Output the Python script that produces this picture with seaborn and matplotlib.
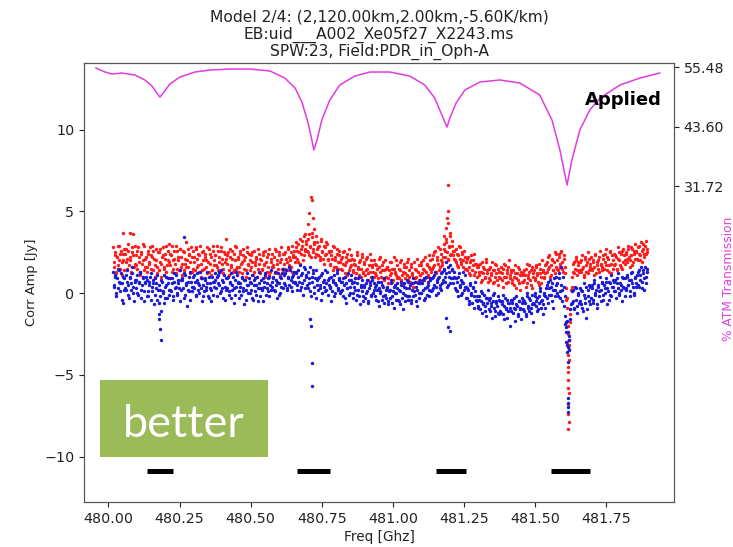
import numpy as np
import pandas as pd
import matplotlib
matplotlib.use("Agg")
import matplotlib.pyplot as plt
from matplotlib.patches import Rectangle
from matplotlib.ticker import FormatStrFormatter
import seaborn as sns

# ---------------- data ----------------
title_lines = ["Model 2/4: (2,120.00km,2.00km,-5.60K/km)",
               "EB:uid___A002_Xe05f27_X2243.ms",
               "SPW:23, Field:PDR_in_Oph-A"]

# channel grid of the spectral window (GHz); second sample set sits half a channel later
chan_first = 480.016
chan_last = 481.892
chan_half_step = 0.002
n_chan = 470

red_amp = [
    2.8, 1.6, 2.3, 1.2, 2.9, 2.0, 1.5, 2.6, 1.9, 2.4,
    1.4, 2.7, 2.1, 3.0, 1.7, 2.2, 1.3, 2.5, 3.6, 1.8,
    2.3, 1.5, 2.8, 1.9, 1.1, 2.4, 2.0, 2.9, 1.6, 2.2,
    1.3, 2.6, 1.8, 2.3, 2.9, 1.4, 2.1, 1.7, 2.7, 1.2,
    2.5, 1.9, 1.0, 2.2, 2.8, 1.6, 2.4, 1.3, 2.0, 3.0,
    1.7, 2.3, 2.9, 1.5, 2.1, 1.2, 2.6, 2.0, 1.4, 2.7,
    2.2, 1.1, 2.5, 1.8, 3.1, 2.0, 1.6, 2.4, 1.9, 1.3,
    2.6, 1.9, 1.4, 2.8, 2.1, 1.7, 2.3, 1.0, 2.5, 2.0,
    1.5, 2.4, 2.0, 1.2, 2.7, 1.8, 2.2, 1.4, 2.9, 1.7,
    2.3, 1.6, 2.6, 1.9, 1.3, 2.8, 2.1, 1.5, 2.4, 3.3,
    1.8, 2.5, 1.1, 2.2, 1.7, 2.6, 1.4, 2.0, 2.8, 1.6,
    2.1, 1.3, 2.4, 1.9, 2.7, 1.5, 2.2, 1.0, 2.5, 1.8,
    1.4, 2.3, 1.9, 1.1, 2.6, 1.7, 2.1, 1.5, 2.4, 1.2,
    2.0, 1.5, 2.5, 1.8, 1.0, 2.2, 1.6, 2.7, 1.3, 1.9,
    2.4, 1.7, 1.2, 2.6, 2.0, 1.5, 2.3, 1.9, 2.8, 1.4,
    1.8, 2.5, 2.1, 1.4, 2.7, 2.2, 1.6, 2.9, 2.3, 2.6,
    2.2, 3.1, 2.6, 1.9, 3.3, 2.4, 2.9, 2.0, 3.5, 2.7,
    3.2, 2.5, 3.6, 2.9, 2.2, 3.4, 2.7, 3.0, 2.4, 3.1,
    2.3, 2.9, 2.0, 3.2, 2.6, 1.8, 2.8, 2.4, 3.0, 2.1,
    2.5, 1.7, 2.3, 1.4, 2.8, 2.0, 1.6, 2.4, 1.9, 2.6,
    1.5, 2.2, 1.8, 2.6, 1.2, 1.9, 2.4, 1.4, 2.0, 1.7,
    2.1, 1.3, 1.8, 0.9, 2.3, 1.6, 1.1, 2.0, 1.5, 2.4,
    1.2, 1.9, 1.4, 2.2, 0.8, 1.7, 1.3, 2.0, 1.6, 1.0,
    1.8, 1.1, 1.5, 0.7, 2.1, 1.3, 1.7, 0.9, 1.4, 2.0,
    1.0, 1.6, 0.6, 1.9, 1.2, 1.5, 0.8, 2.2, 1.3, 1.1,
    1.7, 0.9, 1.4, 2.0, 1.1, 0.5, 1.6, 1.2, 1.9, 0.8,
    1.4, 0.7, 1.8, 1.1, 0.4, 1.5, 1.0, 2.1, 1.3, 0.8,
    1.1, 1.9, 1.5, 0.8, 2.2, 1.3, 1.7, 1.0, 1.6, 2.0,
    1.5, 2.3, 1.7, 2.6, 1.2, 2.0, 2.8, 1.6, 2.4, 1.9,
    2.2, 3.0, 2.6, 3.3, 2.1, 2.8, 3.5, 2.4, 2.9, 2.3,
    2.6, 1.9, 2.4, 1.6, 2.9, 2.1, 1.8, 2.5, 2.0, 1.5,
    1.9, 1.4, 2.2, 1.6, 1.1, 2.0, 1.7, 2.4, 1.3, 1.8,
    1.0, 1.7, 1.3, 0.7, 1.9, 1.2, 1.5, 0.9, 2.1, 1.4,
    1.5, 0.8, 1.2, 1.9, 0.6, 1.4, 1.0, 1.7, 0.5, 1.3,
    0.9, 1.6, 1.2, 0.4, 1.8, 1.0, 1.4, 0.7, 2.0, 1.1,
    1.3, 0.6, 1.0, 1.7, 0.3, 1.2, 0.8, 1.5, 0.2, 1.1,
    0.7, 1.4, 1.1, 0.4, 1.8, 0.9, 1.3, 0.5, 1.6, 1.0,
    1.4, 0.8, 1.7, 1.2, 0.5, 1.5, 1.0, 2.0, 1.3, 0.9,
    1.2, 1.9, 1.5, 2.3, 1.0, 1.7, 2.1, 1.4, 2.5, 1.6,
    2.0, 1.4, 2.4, 1.8, 2.6, 1.5, 2.1, 1.2, 0.3, -0.9,
    -2.5, -4.1, -1.3, 0.4, 1.3, 1.9, 1.5, 2.2, 1.1, 1.7,
    1.9, 1.3, 2.3, 1.6, 1.0, 2.1, 1.7, 2.5, 1.4, 1.8,
    2.2, 1.5, 1.9, 1.1, 2.4, 1.7, 2.0, 1.3, 2.6, 1.8,
    1.6, 2.3, 1.9, 2.7, 1.4, 2.1, 1.7, 2.5, 1.2, 2.0,
    2.4, 1.8, 2.2, 1.5, 2.8, 2.0, 1.6, 2.6, 1.9, 2.3,
    1.8, 2.5, 2.1, 2.9, 1.6, 2.3, 2.7, 1.9, 2.4, 3.0,
    2.6, 2.0, 2.9, 2.3, 3.1, 1.9, 2.7, 2.4, 3.2, 2.5,
]

red_amp_b = [
    1.9, 2.5, 1.3, 2.2, 1.7, 2.9, 2.4, 1.1, 2.0, 2.7,
    2.4, 1.9, 1.5, 2.6, 2.0, 1.2, 2.8, 2.3, 1.6, 2.9,
    1.7, 2.6, 2.2, 1.3, 2.5, 1.8, 3.0, 1.4, 2.1, 1.6,
    2.4, 1.9, 2.8, 1.5, 2.2, 2.6, 1.0, 2.0, 1.6, 2.5,
    1.4, 2.7, 1.8, 2.3, 1.5, 2.1, 2.9, 1.7, 2.6, 1.9,
    2.4, 1.3, 2.0, 2.6, 1.8, 2.9, 1.5, 2.2, 2.7, 1.6,
    1.8, 2.6, 1.4, 2.1, 1.6, 2.7, 2.3, 1.2, 2.8, 2.2,
    1.5, 2.2, 2.7, 1.6, 2.4, 1.3, 2.9, 1.8, 1.4, 2.6,
    2.2, 1.6, 2.8, 1.9, 1.3, 2.4, 1.1, 2.6, 2.0, 2.3,
    1.7, 2.9, 1.4, 2.2, 2.6, 1.8, 1.2, 2.5, 1.9, 2.1,
    2.3, 1.4, 2.7, 1.6, 2.1, 1.3, 2.4, 2.9, 1.5, 2.2,
    1.6, 2.6, 1.8, 1.2, 2.3, 2.0, 1.4, 2.8, 1.7, 2.4,
    2.0, 1.6, 2.5, 1.3, 1.9, 2.2, 1.0, 2.7, 1.8, 2.1,
    1.4, 2.3, 1.7, 2.6, 1.9, 1.3, 2.4, 1.1, 2.1, 1.6,
    1.6, 2.2, 2.7, 1.3, 1.8, 2.5, 1.1, 2.1, 1.5, 2.4,
    2.4, 1.5, 1.9, 2.8, 1.7, 2.0, 2.5, 1.3, 2.2, 1.9,
    2.8, 2.1, 3.0, 2.5, 1.8, 2.7, 3.2, 2.3, 2.6, 3.0,
    2.6, 3.3, 2.3, 2.8, 3.7, 2.5, 3.1, 2.2, 3.5, 2.7,
    2.8, 2.2, 3.3, 2.5, 2.1, 2.9, 2.3, 3.1, 2.0, 2.6,
    1.8, 2.6, 2.1, 2.9, 1.6, 2.2, 2.7, 1.5, 2.3, 1.9,
    2.1, 1.4, 2.5, 1.7, 2.2, 1.1, 2.0, 2.7, 1.6, 2.3,
    1.4, 2.0, 1.7, 1.2, 2.5, 1.5, 1.9, 1.0, 2.2, 1.3,
    1.8, 1.1, 2.1, 1.5, 1.2, 2.4, 1.0, 1.7, 1.3, 2.0,
    1.2, 1.7, 0.9, 1.6, 2.2, 1.0, 1.4, 1.9, 0.8, 1.5,
    1.6, 0.9, 1.4, 1.1, 1.9, 0.7, 1.5, 1.2, 2.0, 0.9,
    1.0, 1.5, 1.9, 0.8, 1.3, 1.8, 0.9, 1.6, 1.1, 2.1,
    1.0, 1.6, 1.2, 0.6, 1.9, 0.9, 1.4, 0.7, 1.7, 1.1,
    1.7, 1.2, 2.0, 1.4, 0.9, 1.8, 1.1, 2.3, 1.5, 1.3,
    2.1, 1.6, 2.5, 1.3, 2.2, 1.8, 1.4, 2.7, 2.0, 1.7,
    2.7, 2.2, 3.1, 2.5, 2.0, 2.9, 2.3, 3.2, 2.6, 2.1,
    2.0, 2.7, 1.7, 2.3, 2.8, 1.9, 2.4, 1.6, 2.6, 2.2,
    1.5, 2.1, 1.2, 1.9, 2.3, 1.4, 2.0, 1.1, 1.8, 1.6,
    1.6, 1.1, 1.8, 1.3, 0.8, 1.6, 1.0, 1.9, 1.2, 0.7,
    0.9, 1.6, 1.1, 1.4, 0.7, 1.8, 1.2, 0.8, 1.5, 1.0,
    1.3, 0.8, 1.5, 1.0, 1.7, 0.6, 1.2, 1.6, 0.9, 1.4,
    0.8, 1.4, 0.5, 1.2, 0.9, 1.6, 0.6, 1.1, 1.3, 0.7,
    1.2, 0.8, 1.5, 0.6, 1.1, 1.7, 0.8, 1.4, 0.3, 1.2,
    0.9, 1.6, 1.1, 0.7, 1.8, 1.2, 0.6, 1.4, 1.0, 1.7,
    1.8, 1.3, 2.2, 1.6, 1.1, 2.0, 1.4, 1.9, 1.2, 2.4,
    1.5, 2.2, 1.6, 2.5, 1.9, 1.3, 2.3, 1.6, -0.4, -2.0,
    -3.2, -1.8, 0.2, 1.0, 1.8, 1.2, 2.0, 1.4, 1.9, 1.3,
    1.4, 2.0, 1.5, 1.1, 2.2, 1.3, 1.9, 1.2, 2.1, 1.6,
    1.4, 2.0, 1.6, 2.3, 1.2, 1.9, 1.5, 2.2, 1.7, 1.4,
    2.1, 1.5, 2.4, 1.7, 2.2, 1.3, 2.6, 1.8, 2.3, 1.5,
    1.7, 2.3, 1.4, 2.1, 2.5, 1.7, 2.4, 1.5, 2.7, 2.0,
    2.4, 1.9, 2.7, 2.2, 2.0, 2.8, 1.7, 2.6, 2.1, 2.5,
    2.1, 2.8, 2.4, 2.0, 2.6, 3.0, 2.2, 2.9, 2.4, 2.7,
]

blue_amp = [
    1.3, 0.4, 1.0, -0.2, 1.5, 0.7, 0.1, 1.2, 0.6, -0.6,
    0.9, 0.2, 1.4, 0.5, -0.3, 1.0, 0.6, 1.6, 0.0, 0.8,
    0.3, 1.1, -0.1, 0.7, 1.3, 0.2, 0.9, -0.5, 0.6, 1.0,
    0.8, -0.2, 0.5, 1.2, 0.1, 0.6, -0.7, 0.9, 0.3, -0.4,
    -0.6, 0.2, -1.1, 0.7, 0.0, 1.1, -0.3, 0.5, 0.9, -0.1,
    0.9, 0.1, 0.6, -0.4, 1.2, 0.4, -0.1, 0.8, 0.3, 1.4,
    0.2, 0.8, -0.3, 1.1, 0.5, -0.8, 0.7, 0.1, 1.3, 0.4,
    1.0, 0.3, 0.7, -0.2, 1.2, 0.6, 0.0, 0.9, -0.5, 0.5,
    0.1, 0.9, 0.4, 1.3, -0.3, 0.6, 0.2, 1.0, -0.1, 0.7,
    0.8, -0.2, 1.1, 0.5, 0.0, 1.4, 0.3, 0.7, -0.4, 0.9,
    0.3, 1.0, -0.1, 0.6, 1.2, 0.2, -0.6, 0.8, 0.4, 1.1,
    0.7, -0.3, 0.4, 1.0, 0.1, -0.7, 0.8, 0.2, 1.2, 0.5,
    0.0, 0.6, 1.1, -0.4, 0.5, 0.9, -0.1, 0.3, 1.3, -0.2,
    0.8, 0.2, -0.5, 0.7, 1.1, 0.3, 0.9, -0.2, 0.5, 1.4,
    0.4, 1.0, 0.1, 0.8, -0.3, 1.2, 0.6, 0.0, 0.9, 1.5,
    1.1, 0.5, 1.4, 0.2, 0.9, 1.6, 0.4, 1.0, 0.7, 1.3,
    0.6, 1.3, 0.2, 1.0, 1.7, 0.4, 1.2, -0.1, 0.8, 1.5,
    1.1, 0.3, 0.9, 1.6, -0.2, 0.7, 1.2, 0.0, 1.4, 0.5,
    0.2, 1.0, 0.5, -0.4, 1.2, 0.8, 0.1, 0.6, 1.3, -0.1,
    0.9, 0.3, -0.5, 0.7, 1.1, 0.0, 0.5, 1.4, 0.2, 0.8,
    0.1, 0.7, -0.2, 0.5, 1.0, -0.6, 0.3, 0.8, 0.0, 1.1,
    0.6, -0.3, 0.4, 0.9, -0.1, 0.2, 1.0, -0.7, 0.5, 0.1,
    -0.2, 0.5, 0.0, 0.8, -0.6, 0.3, 0.7, -0.1, 1.0, 0.2,
    0.4, -0.4, 0.2, 0.7, -0.8, 0.1, 0.5, -0.2, 0.9, -0.1,
    -0.3, 0.4, -0.7, 0.2, 0.6, -0.2, 0.1, -0.9, 0.5, 0.0,
    0.3, -0.5, 0.1, 0.7, -0.3, -1.0, 0.4, -0.1, 0.8, -0.4,
    -0.2, 0.5, -0.6, 0.2, 0.9, -0.1, 0.4, -0.8, 0.6, 0.0,
    0.6, 0.0, 0.8, -0.4, 0.3, 1.0, -0.1, 0.5, 0.2, 0.9,
    0.2, 1.0, 0.5, 1.3, -0.1, 0.7, 0.9, 0.3, 1.2, 0.6,
    0.8, 1.5, 1.0, 1.9, 0.5, 1.3, 1.7, 0.9, 1.4, 0.6,
    1.0, 0.2, 0.7, -0.2, 1.2, 0.4, 0.8, 0.0, 0.6, 1.1,
    0.4, -0.3, 0.2, -0.7, 0.6, -0.1, 0.3, -0.9, 0.1, -0.4,
    -0.2, -0.9, -0.4, 0.1, -1.2, -0.6, -0.1, -0.8, -1.4, -0.3,
    -1.0, -0.3, -0.8, -1.5, -0.5, 0.0, -1.1, -0.6, -0.2, -1.3,
    -0.5, -1.2, -0.7, -0.1, -1.6, -0.9, -0.4, -1.1, -0.6, -2.0,
    -1.1, -0.4, -0.9, -1.7, -0.2, -0.8, -1.3, -0.5, -1.0, -0.3,
    -0.4, -1.1, -0.6, -1.4, 0.0, -0.9, -0.3, -1.2, -0.7, -1.8,
    -0.7, 0.0, -0.5, -1.1, -0.2, 0.3, -0.9, -0.4, -1.3, -0.1,
    -0.2, 0.5, -0.6, 0.3, 0.8, -0.1, 0.6, -0.9, 0.2, 1.0,
    0.6, -0.2, 1.2, 0.1, 1.6, -0.5, 0.4, -1.4, -2.1, -1.7,
    -3.3, -2.6, -1.0, -0.6, 0.2, -0.9, 0.4, -0.4, -1.2, 0.0,
    0.3, -0.7, 0.1, -1.1, 0.6, -0.3, -1.5, 0.2, -0.5, 0.4,
    -0.3, 0.5, -0.6, 0.8, 0.0, -0.9, 0.4, -0.2, 1.0, 0.2,
    0.6, -0.4, 0.3, 0.9, -0.7, 0.1, 0.7, -0.1, 1.1, 0.4,
    0.1, 0.8, -0.3, 0.6, 1.2, 0.0, 0.5, -0.5, 0.9, 0.3,
    0.9, 0.2, 1.1, 0.5, -0.2, 0.8, 1.3, 0.4, 0.0, 1.0,
    0.6, 1.3, 0.4, 1.1, 1.6, 0.7, 1.4, 0.2, 1.0, 1.5,
]

blue_amp_b = [
    0.5, 1.1, 0.0, 0.9, 0.3, 1.4, 0.6, -0.4, 1.0, 0.2,
    0.3, 1.1, 0.7, -0.1, 0.9, 0.2, 1.2, 0.4, -0.5, 0.7,
    0.8, 0.0, 0.6, 1.2, -0.3, 0.5, 1.0, 0.1, 0.7, -0.2,
    0.1, 0.7, 1.0, -0.4, 0.4, 0.8, -0.1, 0.6, 1.1, 0.2,
    0.5, -0.2, 0.8, 0.1, -0.6, 0.4, 1.0, -0.3, 0.6, 0.2,
    0.2, 0.9, -0.2, 0.7, 0.3, 1.1, 0.0, 0.6, -0.5, 0.8,
    0.9, 0.3, 1.2, -0.1, 0.6, 0.2, 1.0, -0.4, 0.7, 0.1,
    0.4, 1.1, -0.1, 0.8, 0.2, 0.5, 1.3, 0.3, 0.9, -0.2,
    0.8, 0.2, 0.6, -0.2, 1.0, 0.3, -0.5, 0.7, 0.4, 1.2,
    0.3, 1.0, 0.6, 1.3, 0.1, 0.8, -0.3, 1.1, 0.4, 0.2,
    0.9, 0.1, 0.7, -0.3, 0.5, 1.0, 0.3, -0.1, 1.3, 0.6,
    0.1, 0.6, -0.1, 0.9, 0.3, 0.8, -0.4, 0.5, 0.0, 0.9,
    0.7, 0.2, -0.3, 0.8, 0.1, 0.5, 1.0, -0.5, 0.6, 0.3,
    0.3, 0.9, 0.4, 1.2, -0.1, 0.6, 0.1, 1.0, 0.2, 0.7,
    0.9, 0.2, 1.3, 0.5, 0.7, -0.1, 1.0, 0.4, 1.2, 0.3,
    0.6, 1.2, 0.3, 1.0, 0.5, 1.4, 0.8, 0.1, 1.1, 0.7,
    1.2, 0.5, 1.4, 0.7, 0.2, 1.1, 0.6, 1.6, 0.3, 1.0,
    0.5, 1.3, 0.6, 0.1, 1.0, 1.4, 0.4, 0.9, -0.3, 0.8,
    0.9, 0.3, 1.1, 0.0, 0.7, 0.4, 1.4, 0.2, 0.8, 0.5,
    0.4, 1.0, 0.1, 0.8, -0.2, 0.6, 1.2, 0.3, 0.9, 0.0,
    0.7, 0.2, 0.9, -0.3, 0.6, 0.3, 1.2, -0.1, 0.4, 0.8,
    0.0, 0.7, 0.2, -0.4, 0.6, 0.9, -0.2, 0.4, 0.8, -0.5,
    0.4, -0.3, 0.6, 0.1, -0.5, 0.5, -0.2, 0.8, 0.0, 0.6,
    -0.2, 0.5, -0.5, 0.3, 0.0, 0.7, -0.4, 0.4, -0.6, 0.2,
    0.3, -0.5, 0.1, -0.3, 0.8, -0.6, 0.4, 0.0, -0.4, 0.6,
    -0.4, 0.2, -0.7, 0.5, 0.0, 0.6, -0.5, 0.3, -0.2, 0.7,
    0.3, -0.4, 0.6, -0.2, 0.1, 0.7, -0.5, 0.2, -0.3, 0.8,
    0.0, 0.6, 0.2, 0.9, -0.3, 0.4, 0.7, -0.2, 0.8, 0.1,
    0.9, 0.3, 1.1, 0.4, 0.8, 0.0, 1.0, 0.5, 0.2, 1.3,
    1.4, 0.7, 1.2, 0.4, 1.6, 1.0, 0.6, 1.5, 0.9, 1.3,
    0.3, 0.9, 0.1, 1.0, 0.5, -0.1, 0.7, 1.3, 0.2, 0.4,
    -0.3, 0.3, -0.5, 0.5, 0.0, -0.6, 0.4, -0.2, 0.7, -0.5,
    -0.8, -0.2, -1.0, -0.5, 0.0, -0.7, -1.1, -0.3, -0.6, 0.2,
    -0.4, -1.1, -0.6, -0.1, -0.9, -1.4, -0.5, -0.8, -1.2, -0.4,
    -1.1, -0.5, -1.3, -0.8, -0.3, -1.0, -1.5, -0.6, -0.9, -0.4,
    -0.6, -1.2, -0.3, -1.0, -0.7, -1.4, -0.5, -0.9, -1.6, -0.6,
    -1.0, -0.5, -1.3, -0.2, -0.8, -1.1, -0.4, -0.9, -0.1, -0.6,
    -0.2, -0.8, -0.3, -1.0, -0.6, 0.1, -0.5, -0.7, 0.0, -0.9,
    0.3, -0.3, 0.7, -0.1, 0.4, -0.5, 0.2, 0.9, -0.2, 0.5,
    0.0, 0.9, -0.3, 0.5, 0.2, 1.0, -0.8, -0.2, -1.8, -2.4,
    -2.9, -1.6, -0.7, 0.1, -0.5, -1.0, 0.3, -0.8, -0.1, -0.6,
    -0.5, 0.2, -0.9, -0.1, -0.6, 0.4, -1.0, -0.2, 0.5, -0.7,
    0.3, -0.4, 0.6, -0.1, 0.2, -0.7, 0.5, 0.1, -0.5, 0.7,
    -0.1, 0.5, 0.0, 0.7, 0.3, -0.4, 0.6, -0.2, 0.4, 0.8,
    0.7, 0.1, 0.9, 0.3, -0.1, 0.6, 0.2, 1.0, 0.4, -0.2,
    0.3, 1.0, 0.5, 0.8, 0.1, 1.2, 0.6, -0.1, 0.9, 0.4,
    1.1, 0.5, 1.4, 0.8, 0.3, 1.2, 0.9, 1.6, 0.6, 1.3,
]

# isolated points (line peaks and absorption dip)
red_extra_freq = [480.051, 480.074, 480.690, 480.700, 480.706, 480.712, 480.716,
                  480.718, 480.722, 481.178, 481.188, 481.190, 481.193, 481.193,
                  481.195, 481.200, 481.610, 481.611, 481.612, 481.613, 481.614,
                  481.614, 481.615, 481.616, 481.616, 481.617, 481.617, 481.617,
                  481.618, 481.618, 481.619, 481.621]
red_extra_amp = [3.7, 3.7, 3.6, 4.2, 4.9, 5.9, 5.7,
                 4.6, 3.9, 3.5, 4.0, 4.6, 6.6, 5.0,
                 4.3, 3.7, -1.8, -0.3, -3.0, -2.4, -3.8,
                 -4.8, -4.5, -5.3, -6.8, -5.8, -7.4, -8.3,
                 -6.1, -7.9, -3.4, -1.0]

blue_extra_freq = [480.176, 480.178, 480.181, 480.183, 480.267, 480.709, 480.712,
                   480.716, 480.716, 481.185, 481.195, 481.200, 481.606, 481.608,
                   481.610, 481.612, 481.613, 481.615, 481.616, 481.617, 481.617,
                   481.617, 481.618, 481.620]
blue_extra_amp = [-1.3, -1.6, -2.2, -2.9, 3.4, -1.6, -2.0,
                  -4.3, -5.7, -1.5, -2.1, -2.3, -1.9, -2.4,
                  -3.0, -3.6, -3.2, -4.2, -6.7, -6.4, -7.0,
                  -7.3, -2.9, -3.5]

# atmospheric transmission model (%)
atm_freq = [479.956, 479.988, 480.012, 480.047, 480.093, 480.128, 480.153, 480.170,
            480.181, 480.195, 480.216, 480.251, 480.304, 480.357, 480.427, 480.497,
            480.568, 480.620, 480.656, 480.680, 480.701, 480.715, 480.722, 480.733,
            480.750, 480.778, 480.813, 480.866, 480.919, 480.989, 481.059, 481.112,
            481.147, 481.172, 481.190, 481.200, 481.222, 481.253, 481.306, 481.376,
            481.446, 481.516, 481.559, 481.587, 481.612, 481.629, 481.657, 481.692,
            481.728, 481.798, 481.868, 481.938]
atm_trans = [55.28, 54.48, 54.08, 54.28, 53.88, 52.89, 51.69, 50.29,
             49.49, 50.49, 52.09, 53.48, 54.48, 54.88, 55.08, 55.08,
             54.68, 53.28, 51.29, 48.49, 44.50, 40.91, 38.91, 40.91,
             44.90, 48.89, 51.89, 53.68, 54.48, 54.48, 53.68, 51.89,
             49.29, 45.90, 43.50, 45.30, 48.29, 50.89, 52.49, 52.89,
             52.29, 49.89, 44.90, 38.91, 31.93, 36.92, 42.91, 46.90,
             49.29, 51.89, 53.28, 54.28]

# line-free (excluded) ranges
range_start = [480.134, 480.663, 481.153, 481.557]
range_end = [480.227, 480.779, 481.258, 481.691]
range_level = -10.87

x_ticks = [480.00, 480.25, 480.50, 480.75, 481.00, 481.25, 481.50, 481.75]
atm_ticks = [31.72, 43.60, 55.48]

# ---------------- plotting ----------------
chan_freq = np.linspace(chan_first, chan_last, n_chan)
chan_freq_b = chan_freq + chan_half_step
df_red = pd.DataFrame({"freq": np.concatenate([chan_freq, chan_freq_b, red_extra_freq]),
                       "amp": np.concatenate([red_amp, red_amp_b, red_extra_amp])})
df_blue = pd.DataFrame({"freq": np.concatenate([chan_freq, chan_freq_b, blue_extra_freq]),
                        "amp": np.concatenate([blue_amp, blue_amp_b, blue_extra_amp])})
df_atm = pd.DataFrame({"freq": atm_freq, "trans": atm_trans})

plt.rcParams["font.family"] = ["DejaVu Sans"]
fig = plt.figure(figsize=(7.33, 5.47), dpi=100)
ax = fig.add_axes([84 / 733, 45 / 547, 590 / 733, 439 / 547])

sns.scatterplot(data=df_red, x="freq", y="amp", color="#ff1a1a", s=6,
                linewidth=0, ax=ax, zorder=2)
sns.scatterplot(data=df_blue, x="freq", y="amp", color="#1a1ad6", s=6,
                linewidth=0, ax=ax, zorder=3)
ax.hlines([range_level] * len(range_start), range_start, range_end,
          colors="black", linewidth=3.6, zorder=4)

ax.set_xlim(479.914, 481.988)
ax.set_ylim(-12.78, 14.07)
ax.set_xticks(x_ticks)
ax.xaxis.set_major_formatter(FormatStrFormatter("%.2f"))
ax.set_yticks([-10, -5, 0, 5, 10])
ax.tick_params(labelsize=10.3, colors="#222222")
ax.set_xlabel("Freq [Ghz]", fontsize=9.8, color="#222222", labelpad=3)
ax.set_ylabel("Corr Amp [Jy]", fontsize=9.4, color="#222222")
ax.set_title("\n".join(title_lines), fontsize=11.2, color="#222222",
             linespacing=1.12, pad=5)
for sp in ax.spines.values():
    sp.set_color("#555555")

ax2 = ax.twinx()
sns.lineplot(data=df_atm, x="freq", y="trans", color="#e03ce0", linewidth=1.1,
             ax=ax2, sort=False)
ax2.set_ylim(-31.3, 56.28)
ax2.set_yticks(atm_ticks)
ax2.yaxis.set_major_formatter(FormatStrFormatter("%.2f"))
ax2.tick_params(labelsize=10.2, colors="#222222")
ax2.set_ylabel("")
ax2.set_xlabel("")
for sp in ax2.spines.values():
    sp.set_color("#555555")

ax2.text(0.98, 0.915, "Applied", transform=ax2.transAxes, ha="right",
         va="center", fontsize=13, fontweight="bold", color="black")

fig.text(728 / 733, 1 - 279 / 547, "% ATM Transmission", rotation=90,
         ha="center", va="center", fontsize=8.8, color="#e040e0")

# overlay label box
fig.patches.append(Rectangle((100 / 733, 1 - 457 / 547), 168 / 733, 77 / 547,
                             transform=fig.transFigure, facecolor="#9bbb59",
                             edgecolor="none", zorder=10))
fig.text(184 / 733, 1 - 437 / 547, "better", ha="center", va="baseline",
         fontsize=32.5, color="white", family=["Lato", "DejaVu Sans"], zorder=11)

fig.savefig("out.png", dpi=100)
